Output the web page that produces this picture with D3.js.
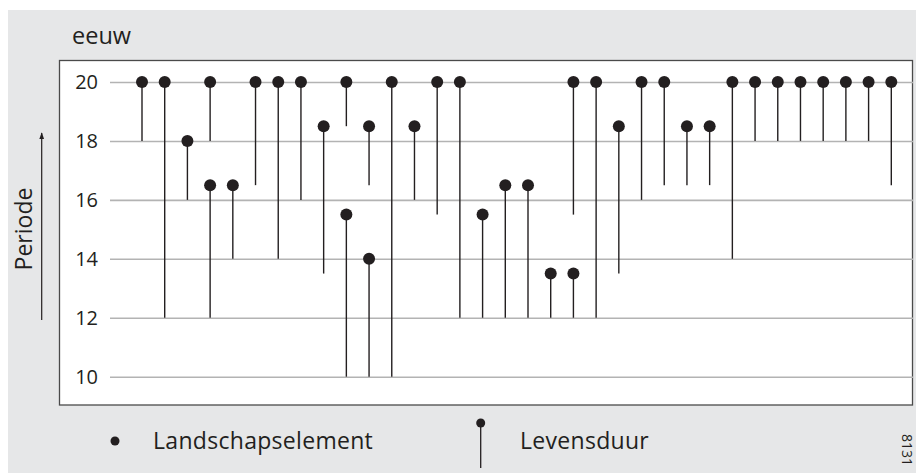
<!DOCTYPE html>
<html>
<head>
<meta charset="utf-8">
<script src="https://cdn.jsdelivr.net/npm/d3@7"></script>
<style>
  body { margin: 0; background: #fff; }
  text { font-family: "Open Sans", "Noto Sans", sans-serif; fill: #231f20; }
</style>
</head>
<body>
<svg id="chart" width="916" height="473"></svg>
<script>
// one entry per lifespan: column on the x-axis, first and last century
const columns = [1, 2, 3, 4, 4, 5, 6, 7, 8, 9, 10, 10, 11, 11, 12, 13, 14, 15, 16, 17, 18, 19, 20, 20, 21, 22, 23, 24, 25, 26, 27, 28, 29, 30, 31, 32, 33, 34];
const startCentury = [20, 20, 18, 20, 16.5, 16.5, 20, 20, 20, 18.5, 20, 15.5, 18.5, 14, 20, 18.5, 20, 20, 15.5, 16.5, 16.5, 13.5, 20, 13.5, 20, 18.5, 20, 20, 18.5, 18.5, 20, 20, 20, 20, 20, 20, 20, 20];
const endCentury = [18, 12, 16, 18, 12, 14, 16.5, 14, 16, 13.5, 18.5, 10, 16.5, 10, 10, 16, 15.5, 12, 12, 12, 12, 12, 15.5, 12, 12, 13.5, 16, 16.5, 16.5, 16.5, 14, 18, 18, 18, 18, 18, 18, 16.5];
const yTicks = [10, 12, 14, 16, 18, 20];

const data = columns.map((c, i) => ({ col: c, top: startCentury[i], bottom: endCentury[i] }));

const svg = d3.select("#chart");

// background panel + plot frame
svg.append("rect").attr("x", 8).attr("y", 10).attr("width", 908).attr("height", 463).attr("fill", "#e6e7e8");
svg.append("rect").attr("x", 59.5).attr("y", 60.5).attr("width", 853).attr("height", 344.5)
    .attr("fill", "#fff").attr("stroke", "#4a4a4a").attr("stroke-width", 1.3);

const x = d3.scaleLinear().domain([1, 34]).range([142, 891.3]);
const y = d3.scaleLinear().domain([10, 20]).range([376.7, 82]);

// gridlines and labels from one axis anchored at the right edge
const axis = d3.axisLeft(y).tickValues(yTicks).tickSize(803).tickPadding(12);
const gAxis = svg.append("g").attr("transform", "translate(913,0)").call(axis);
gAxis.select(".domain").remove();
gAxis.selectAll(".tick line").attr("stroke", "#b3b3b3").attr("stroke-width", 1.6);
gAxis.selectAll(".tick text").attr("font-size", 20).attr("fill", "#231f20")
    .attr("font-family", "'Open Sans', sans-serif");

// stems
svg.append("g").selectAll("line").data(data).join("line")
    .attr("x1", d => x(d.col)).attr("x2", d => x(d.col))
    .attr("y1", d => y(d.top)).attr("y2", d => y(d.bottom))
    .attr("stroke", "#231f20").attr("stroke-width", 1.4);

// dots
svg.append("g").selectAll("circle").data(data).join("circle")
    .attr("cx", d => x(d.col)).attr("cy", d => y(d.top)).attr("r", 6)
    .attr("fill", "#231f20");

// titles
svg.append("text").attr("x", 72).attr("y", 44).attr("font-size", 23.5).text("eeuw");
svg.append("text").attr("transform", "translate(32,229) rotate(-90)")
    .attr("text-anchor", "middle").attr("font-size", 23).text("Periode");

// arrow
svg.append("defs").append("marker").attr("id", "arr")
    .attr("viewBox", "0 0 10 10").attr("refX", 9).attr("refY", 5)
    .attr("markerWidth", 6).attr("markerHeight", 6).attr("orient", "auto")
  .append("path").attr("d", "M0,1.5L10,5L0,8.5z").attr("fill", "#231f20");
svg.append("line").attr("x1", 41.7).attr("x2", 41.7).attr("y1", 320).attr("y2", 133)
    .attr("stroke", "#231f20").attr("stroke-width", 1.2).attr("marker-end", "url(#arr)");

// legend
svg.append("circle").attr("cx", 115).attr("cy", 441).attr("r", 4.5).attr("fill", "#231f20");
svg.append("text").attr("x", 153).attr("y", 449).attr("font-size", 23).attr("letter-spacing", 0.3).text("Landschapselement");
svg.append("line").attr("x1", 480.7).attr("x2", 480.7).attr("y1", 423).attr("y2", 468)
    .attr("stroke", "#231f20").attr("stroke-width", 1.3);
svg.append("circle").attr("cx", 480.7).attr("cy", 423).attr("r", 4.5).attr("fill", "#231f20");
svg.append("text").attr("x", 520).attr("y", 449).attr("font-size", 23).attr("letter-spacing", 0.3).text("Levensduur");

svg.append("text").attr("transform", "translate(902,450) rotate(90)")
    .attr("text-anchor", "middle").attr("font-size", 14).text("8131");
</script>
</body>
</html>
